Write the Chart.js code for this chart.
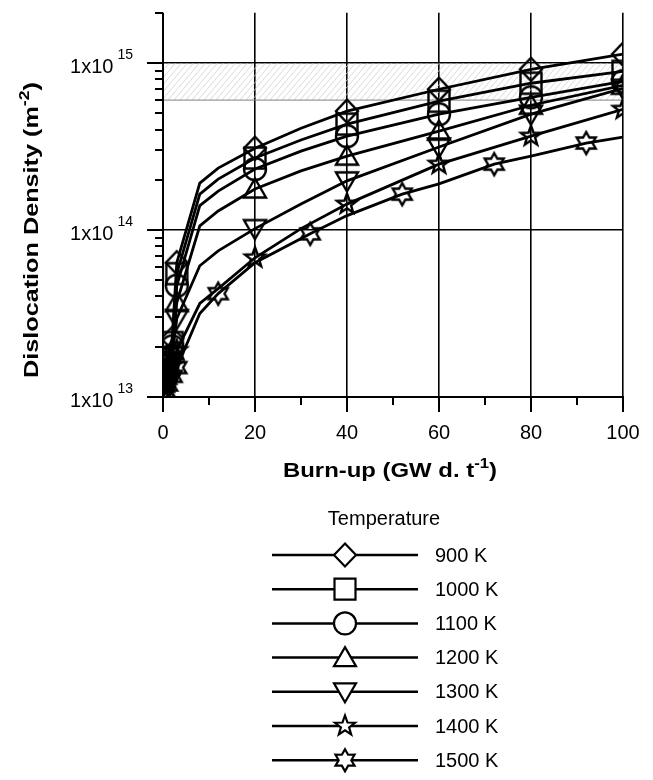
<!DOCTYPE html>
<html>
<head>
<meta charset="utf-8">
<script src="https://cdn.jsdelivr.net/npm/chart.js@4/dist/chart.umd.min.js"></script>
<style>
  html, body { margin: 0; padding: 0; background: #fff; }
</style>
</head>
<body>
<canvas id="chart" width="653" height="780"></canvas>
<script>
// ===== DATA =====
const temperatures = ['900 K', '1000 K', '1100 K', '1200 K', '1300 K', '1400 K', '1500 K'];

const burnup     = [0, 0.5, 1, 2, 3, 8, 12, 20, 30, 40, 60, 80, 100];
const burnup1500 = [0, 0.5, 1, 2, 3, 8, 12, 20, 32, 40, 52, 60, 72, 80, 92, 100];

const rho900  = [1.37e13, 1.53e13, 1.75e13, 2.24e13, 6.37e13, 1.91e14, 2.35e14, 3.09e14, 4.07e14, 5.15e14, 6.97e14, 9.17e14, 1.13e15];
const rho1000 = [1.31e13, 1.46e13, 1.68e13, 2.12e13, 5.48e13, 1.64e14, 2.02e14, 2.70e14, 3.46e14, 4.31e14, 5.91e14, 7.57e14, 8.92e14];
const rho1100 = [1.26e13, 1.40e13, 1.61e13, 2.01e13, 4.64e13, 1.40e14, 1.71e14, 2.32e14, 2.97e14, 3.65e14, 4.94e14, 6.24e14, 7.78e14];
const rho1200 = [1.21e13, 1.35e13, 1.53e13, 1.90e13, 3.68e13, 1.06e14, 1.30e14, 1.76e14, 2.26e14, 2.77e14, 3.91e14, 5.59e14, 7.36e14];
const rho1300 = [1.16e13, 1.29e13, 1.44e13, 1.77e13, 2.95e13, 6.11e13, 7.51e13, 1.02e14, 1.43e14, 1.97e14, 3.14e14, 4.94e14, 7.06e14];
const rho1400 = [1.08e13, 1.18e13, 1.31e13, 1.55e13, 1.90e13, 3.63e13, 4.46e13, 6.82e13, 1.02e14, 1.43e14, 2.48e14, 3.65e14, 5.29e14];
const rho1500 = [1.01e13, 1.08e13, 1.18e13, 1.33e13, 1.50e13, 3.16e13, 4.16e13, 6.37e13, 9.49e13, 1.22e14, 1.64e14, 1.89e14, 2.48e14, 2.77e14, 3.32e14, 3.60e14];

// burn-ups at which a symbol is drawn
const markAt     = [0, 0.5, 1, 2, 3, 20, 40, 60, 80, 100];
const markAt1500 = [0, 0.5, 1, 2, 3, 12, 32, 52, 72, 92];

const xTickLabels = [0, 20, 40, 60, 80, 100];
const yTickExps = [13, 14, 15];

// hatched reference band
const bandLow = 6e14;
const bandHigh = 1e15;

const seriesX = [burnup, burnup, burnup, burnup, burnup, burnup, burnup1500];
const seriesY = [rho900, rho1000, rho1100, rho1200, rho1300, rho1400, rho1500];
const seriesMarks = [markAt, markAt, markAt, markAt, markAt, markAt, markAt1500];

// ===== SYMBOLS =====
function starPath(c, n, ro, ri) {
    for (let i = 0; i < 2 * n; i++) {
        const r = i % 2 ? ri : ro;
        const a = -Math.PI / 2 + i * Math.PI / n;
        if (i === 0) c.moveTo(r * Math.cos(a), r * Math.sin(a));
        else c.lineTo(r * Math.cos(a), r * Math.sin(a));
    }
    c.closePath();
}

const shapes = {
    diamond(c) { c.moveTo(0, -11.5); c.lineTo(11, 0); c.lineTo(0, 11.5); c.lineTo(-11, 0); c.closePath(); },
    square(c) { c.rect(-10.5, -10.5, 21, 21); },
    circle(c) { c.arc(0, 0, 11, 0, Math.PI * 2); },
    triUp(c) { c.moveTo(0, -10.5); c.lineTo(11, 8.5); c.lineTo(-11, 8.5); c.closePath(); },
    triDown(c) { c.moveTo(0, 10.5); c.lineTo(11, -8.5); c.lineTo(-11, -8.5); c.closePath(); },
    star5(c) { starPath(c, 5, 10.5, 4.3); },
    star6(c) { starPath(c, 6, 11, 6.3); }
};
const seriesShape = ['diamond', 'square', 'circle', 'triUp', 'triDown', 'star5', 'star6'];

function markerCanvas(fn) {
    const cv = document.createElement('canvas');
    cv.width = 30; cv.height = 30;
    const c = cv.getContext('2d');
    c.translate(15, 15);
    c.beginPath();
    fn(c);
    c.lineWidth = 2.4;
    c.strokeStyle = '#000';
    c.stroke();
    return cv;
}

// ===== HELPERS =====
const FONT = '"Liberation Sans", Arial, sans-serif';

function isDecade(v) {
    const l = Math.log10(v);
    return Math.abs(l - Math.round(l)) < 1e-6;
}

// draw text made of pieces (with superscripts), centred on x, baseline y
function richText(ctx, parts, x, y, targetW) {
    let w = 0;
    parts.forEach(p => {
        ctx.font = (p.bold ? 'bold ' : '') + p.size + 'px ' + FONT;
        p.w = ctx.measureText(p.t).width;
        w += p.w;
    });
    const sx = targetW ? targetW / w : 1;
    ctx.save();
    ctx.translate(x, y);
    ctx.scale(sx, 1);
    ctx.textAlign = 'left';
    ctx.textBaseline = 'alphabetic';
    let cx = -w / 2;
    parts.forEach(p => {
        ctx.font = (p.bold ? 'bold ' : '') + p.size + 'px ' + FONT;
        ctx.fillText(p.t, cx, -(p.rise || 0));
        cx += p.w;
    });
    ctx.restore();
}

// ===== PLUGIN: band, axes, ticks, labels, legend =====
const framePlugin = {
    id: 'frame',
    beforeDatasetsDraw(chart) {
        const { ctx, chartArea: a, scales: { y } } = chart;
        const yTop = y.getPixelForValue(bandHigh);
        const yBot = y.getPixelForValue(bandLow);
        ctx.save();
        ctx.beginPath();
        ctx.rect(a.left, yTop, a.right - a.left, yBot - yTop);
        ctx.clip();
        ctx.strokeStyle = '#cfcfcf';
        ctx.lineWidth = 0.8;
        const h = yBot - yTop;
        for (let k = a.left - h; k < a.right + h; k += 6) {
            ctx.beginPath();
            ctx.moveTo(k, yBot);
            ctx.lineTo(k + h * 0.85, yTop);
            ctx.stroke();
        }
        ctx.restore();
        ctx.save();
        ctx.strokeStyle = '#808080';
        ctx.lineWidth = 1;
        ctx.beginPath();
        ctx.moveTo(a.left, yBot);
        ctx.lineTo(a.right, yBot);
        ctx.stroke();
        ctx.restore();
    },
    afterDraw(chart) {
        const { ctx, chartArea: a, scales: { x, y } } = chart;
        ctx.save();
        ctx.strokeStyle = '#000';
        ctx.fillStyle = '#000';

        // axis lines
        ctx.lineWidth = 2;
        ctx.beginPath();
        ctx.moveTo(a.left, a.top);
        ctx.lineTo(a.left, a.bottom);
        ctx.moveTo(a.left, a.bottom);
        ctx.lineTo(a.right + 1, a.bottom);
        ctx.stroke();

        // y ticks (outward, left)
        y.ticks.forEach(t => {
            const py = Math.round(y.getPixelForValue(t.value));
            const len = isDecade(t.value) ? 16 : 8;
            ctx.beginPath();
            ctx.moveTo(a.left - len, py);
            ctx.lineTo(a.left, py);
            ctx.stroke();
        });
        // x ticks (outward, down)
        x.ticks.forEach(t => {
            const px = Math.round(x.getPixelForValue(t.value));
            const len = t.value % 20 === 0 ? 15 : 8;
            ctx.beginPath();
            ctx.moveTo(px, a.bottom);
            ctx.lineTo(px, a.bottom + len);
            ctx.stroke();
        });

        // x tick labels
        ctx.font = '20px ' + FONT;
        ctx.textAlign = 'center';
        ctx.textBaseline = 'alphabetic';
        xTickLabels.forEach(v => {
            ctx.fillText(String(v), x.getPixelForValue(v), a.bottom + 42);
        });

        // y tick labels 1x10^n
        yTickExps.forEach(e => {
            const py = y.getPixelForValue(Math.pow(10, e));
            const right = a.left - 30;
            ctx.font = '14px ' + FONT;
            ctx.textAlign = 'right';
            ctx.fillText(String(e), right, py - 4);
            const sw = ctx.measureText(String(e)).width;
            ctx.font = '20px ' + FONT;
            ctx.fillText('1x10', right - sw - 4, py + 10);
        });

        // axis titles
        richText(ctx, [
            { t: 'Burn-up (GW d. t', size: 20, bold: true },
            { t: '-1', size: 14, bold: true, rise: 9 },
            { t: ')', size: 20, bold: true }
        ], 390, 477, 214);

        ctx.save();
        ctx.translate(38, (y.getPixelForValue(1e15) + a.bottom) / 2);
        ctx.rotate(-Math.PI / 2);
        richText(ctx, [
            { t: 'Dislocation Density (m', size: 20, bold: true },
            { t: '-2', size: 14, bold: true, rise: 9 },
            { t: ')', size: 20, bold: true }
        ], 0, 0, 296);
        ctx.restore();

        // legend
        ctx.font = '20px ' + FONT;
        ctx.textAlign = 'center';
        ctx.textBaseline = 'middle';
        ctx.fillText('Temperature', 384, 519);
        temperatures.forEach((label, i) => {
            const ly = 555 + i * 34.2;
            ctx.lineWidth = 2.5;
            ctx.beginPath();
            ctx.moveTo(272, ly);
            ctx.lineTo(418, ly);
            ctx.stroke();
            ctx.save();
            ctx.translate(345, ly);
            ctx.beginPath();
            shapes[seriesShape[i]](ctx);
            ctx.fillStyle = '#fff';
            ctx.fill();
            ctx.lineWidth = 2.2;
            ctx.stroke();
            ctx.restore();
            ctx.textAlign = 'left';
            ctx.fillText(label, 435, ly + 1);
        });
        ctx.restore();
    }
};

// ===== CHART =====
const yTicks = [];
yTickExps.forEach(e => {
    for (let m = 1; m <= 9; m++) {
        const v = m * Math.pow(10, e);
        if (v <= 2e15) yTicks.push(v);
    }
});
yTicks.push(2e15);

const ctx = document.getElementById('chart').getContext('2d');

const chart = new Chart(ctx, {
    type: 'line',
    data: {
        datasets: temperatures.map((t, i) => ({
            label: t,
            data: seriesX[i].map((b, j) => ({ x: b, y: seriesY[i][j] })),
            borderColor: '#000',
            borderWidth: 2.8,
            tension: 0,
            fill: false,
            pointStyle: markerCanvas(shapes[seriesShape[i]]),
            pointRadius: c => (c.raw && seriesMarks[i].includes(c.raw.x)) ? 10 : 0,
            pointHoverRadius: 0
        }))
    },
    options: {
        responsive: false,
        animation: false,
        events: [],
        layout: { padding: { left: 163, right: 30, top: 11, bottom: 383 } },
        plugins: {
            legend: { display: false },
            tooltip: { enabled: false }
        },
        scales: {
            x: {
                type: 'linear',
                min: 0,
                max: 100,
                afterFit: s => { s.height = 0; },
                ticks: { display: false, stepSize: 10 },
                border: { display: false },
                grid: {
                    drawTicks: false,
                    lineWidth: 1.6,
                    color: c => (c.tick && c.tick.value > 0 && c.tick.value % 20 === 0) ? '#000' : 'rgba(0,0,0,0)'
                }
            },
            y: {
                type: 'logarithmic',
                min: 1e13,
                max: 2e15,
                afterFit: s => { s.width = 0; },
                afterBuildTicks: s => { s.ticks = yTicks.map(v => ({ value: v })); },
                ticks: { display: false, autoSkip: false },
                border: { display: false },
                grid: {
                    drawTicks: false,
                    lineWidth: 1.6,
                    color: c => (c.tick && c.tick.value > 2e13 && isDecade(c.tick.value)) ? '#000' : 'rgba(0,0,0,0)'
                }
            }
        }
    },
    plugins: [framePlugin]
});
</script>
</body>
</html>
